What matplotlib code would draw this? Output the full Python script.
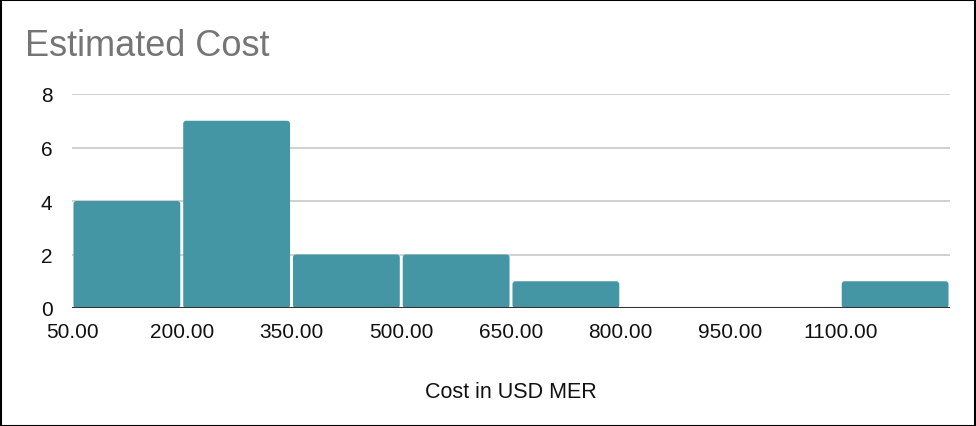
import matplotlib
matplotlib.use('Agg')
import matplotlib.pyplot as plt
from matplotlib.patches import FancyBboxPatch, Rectangle
import numpy as np

#--------------------------------------------------------------
# Histogram data (bins of 150 USD)
bin_edges = [50, 200, 350, 500, 650, 800, 950, 1100, 1250]
counts    = [4, 7, 2, 2, 1, 0, 0, 1]
xtick_pos = bin_edges[:-1]
ytick_pos = [0, 2, 4, 6, 8]

title_txt  = 'Estimated Cost'
xlabel_txt = 'Cost in USD MER'

BAR_COLOR = '#4596a4'
GAP       = 4.0   # data units between neighbouring bars

plt.rcParams['font.family'] = ['Liberation Sans', 'DejaVu Sans']

#--------------------------------------------------------------
W, H = 976, 427
fig = plt.figure(figsize=(W/100, H/100), dpi=100)
ax  = fig.add_axes([72/W, 1-309/H, (950-72)/W, (309-95)/H])

ax.set_xlim(bin_edges[0], bin_edges[-1])
ax.set_ylim(0, 8)

# aspect of one pixel in data units, so the corner rounding stays circular
xu = (bin_edges[-1]-bin_edges[0])/(950-72)
yu = 8/(309-95)
radius = 3*xu

for left, right, c in zip(bin_edges[:-1], bin_edges[1:], counts):
    if c == 0:
        continue
    p = FancyBboxPatch((left+GAP/2, 0), (right-left)-GAP, c,
                       boxstyle=f'round,pad=0,rounding_size={radius}',
                       mutation_aspect=yu/xu,
                       facecolor=BAR_COLOR, edgecolor='none', zorder=3)
    ax.add_patch(p)

# gridlines and baseline
ax.set_yticks(ytick_pos)
ax.yaxis.grid(True, color='#c8c8c8', lw=1.2, zorder=0)
ax.set_axisbelow(True)
ax.axhline(0, color='#333333', lw=1.5, zorder=4)

ax.set_xticks(xtick_pos)
ax.set_xticklabels([f'{v:.2f}' for v in xtick_pos])
ax.tick_params(axis='x', length=0, pad=10, labelsize=15, labelcolor='#111111')
ax.tick_params(axis='y', length=0, pad=14, labelsize=15, labelcolor='#111111')

for s in ax.spines.values():
    s.set_visible(False)

fig.text(25/W, 1-47/H, title_txt, fontsize=26, color='#757575', va='center', ha='left')
fig.text(511/W, 1-393/H, xlabel_txt, fontsize=15.5, color='#111111', va='center', ha='center')

# outer frame
fig.patches.append(Rectangle((0.5/W, 0.5/H), 1-1.5/W, 1-1.5/H, transform=fig.transFigure,
                             fill=False, edgecolor='black', lw=1.5))

plt.savefig('out.png', dpi=100)
